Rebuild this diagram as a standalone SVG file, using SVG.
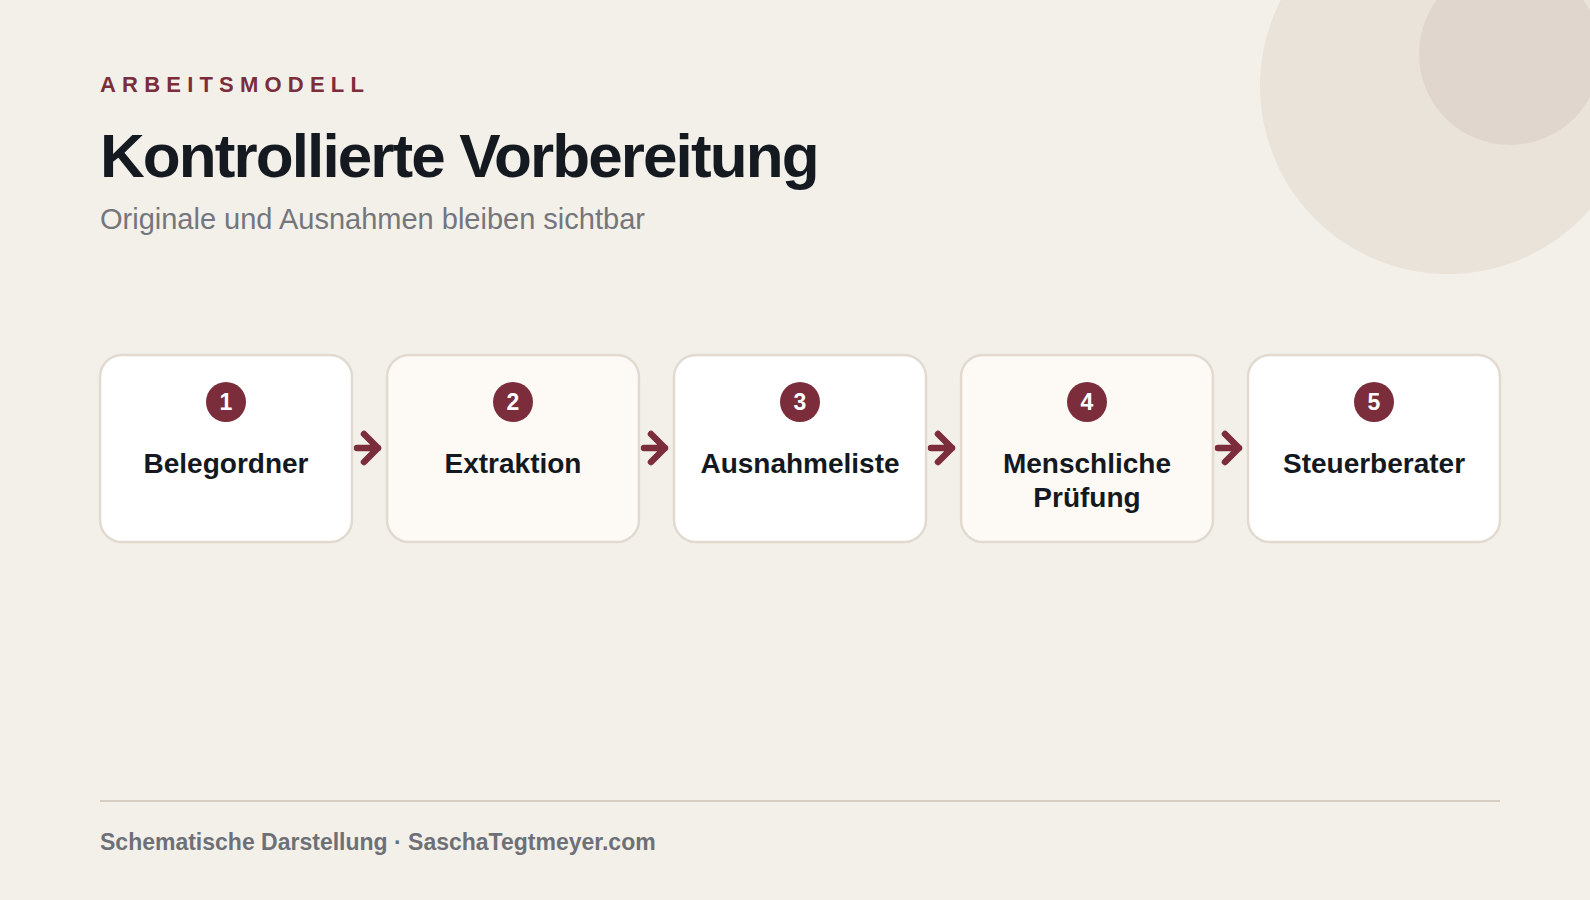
<svg xmlns="http://www.w3.org/2000/svg" width="1590" height="900" viewBox="0 0 1590 900">
  <defs>
    <style>
      .eyebrow { font-family: "Liberation Sans", Arial, sans-serif; font-weight: 700; font-size: 22px; letter-spacing: 6.2px; fill: #7b2d3b; }
      .title { font-family: "Liberation Sans", Arial, sans-serif; font-weight: 700; font-size: 62px; letter-spacing: -1.9px; fill: #151a21; }
      .subtitle { font-family: "Liberation Sans", Arial, sans-serif; font-size: 29px; fill: #74767b; }
      .footer { font-family: "Liberation Sans", Arial, sans-serif; font-weight: 700; font-size: 23px; fill: #6e7077; }
      .card { stroke: #e2dad0; stroke-width: 2.5; }
      .card-a { fill: #ffffff; }
      .card-b { fill: #fdfaf5; }
      .badge { fill: #7b2d3b; }
      .num { font-family: "Liberation Sans", Arial, sans-serif; font-weight: 700; font-size: 23px; fill: #ffffff; text-anchor: middle; }
      .label { font-family: "Liberation Sans", Arial, sans-serif; font-weight: 700; font-size: 28px; fill: #141820; text-anchor: middle; }
      .arrow { fill: none; stroke: #7b2d3b; stroke-width: 6.5; stroke-linecap: round; stroke-linejoin: round; }
    </style>
  </defs>

  <rect x="0" y="0" width="1590" height="900" fill="#f3f0ea"/>

  <g id="decor">
    <circle cx="1448" cy="86" r="188" fill="#e9e3da"/>
    <circle cx="1510" cy="54" r="91" fill="#e0d6cd"/>
  </g>

  <g id="header">
    <text class="eyebrow" x="100" y="92">ARBEITSMODELL</text>
    <text class="title" x="100" y="177">Kontrollierte Vorbereitung</text>
    <text class="subtitle" x="100" y="229">Originale und Ausnahmen bleiben sichtbar</text>
  </g>

  <g id="connectors">
    <path class="arrow" d="M357 448 H378 M364 434 L378 448 L364 462"/>
    <path class="arrow" d="M644 448 H665 M651 434 L665 448 L651 462"/>
    <path class="arrow" d="M931 448 H952 M938 434 L952 448 L938 462"/>
    <path class="arrow" d="M1218 448 H1239 M1225 434 L1239 448 L1225 462"/>
  </g>

  <g id="node-1">
    <rect class="card card-a" x="100" y="355" width="252" height="187" rx="22"/>
    <circle class="badge" cx="226" cy="402" r="20"/>
    <text class="num" x="226" y="410">1</text>
    <text class="label" x="226" y="473">Belegordner</text>
  </g>

  <g id="node-2">
    <rect class="card card-b" x="387" y="355" width="252" height="187" rx="22"/>
    <circle class="badge" cx="513" cy="402" r="20"/>
    <text class="num" x="513" y="410">2</text>
    <text class="label" x="513" y="473">Extraktion</text>
  </g>

  <g id="node-3">
    <rect class="card card-a" x="674" y="355" width="252" height="187" rx="22"/>
    <circle class="badge" cx="800" cy="402" r="20"/>
    <text class="num" x="800" y="410">3</text>
    <text class="label" x="800" y="473">Ausnahmeliste</text>
  </g>

  <g id="node-4">
    <rect class="card card-b" x="961" y="355" width="252" height="187" rx="22"/>
    <circle class="badge" cx="1087" cy="402" r="20"/>
    <text class="num" x="1087" y="410">4</text>
    <text class="label" x="1087" y="473">Menschliche</text>
    <text class="label" x="1087" y="507">Prüfung</text>
  </g>

  <g id="node-5">
    <rect class="card card-a" x="1248" y="355" width="252" height="187" rx="22"/>
    <circle class="badge" cx="1374" cy="402" r="20"/>
    <text class="num" x="1374" y="410">5</text>
    <text class="label" x="1374" y="473">Steuerberater</text>
  </g>

  <g id="footer">
    <line x1="100" y1="801" x2="1500" y2="801" stroke="#d6cfc6" stroke-width="2"/>
    <text class="footer" x="100" y="850">Schematische Darstellung · SaschaTegtmeyer.com</text>
  </g>
</svg>
